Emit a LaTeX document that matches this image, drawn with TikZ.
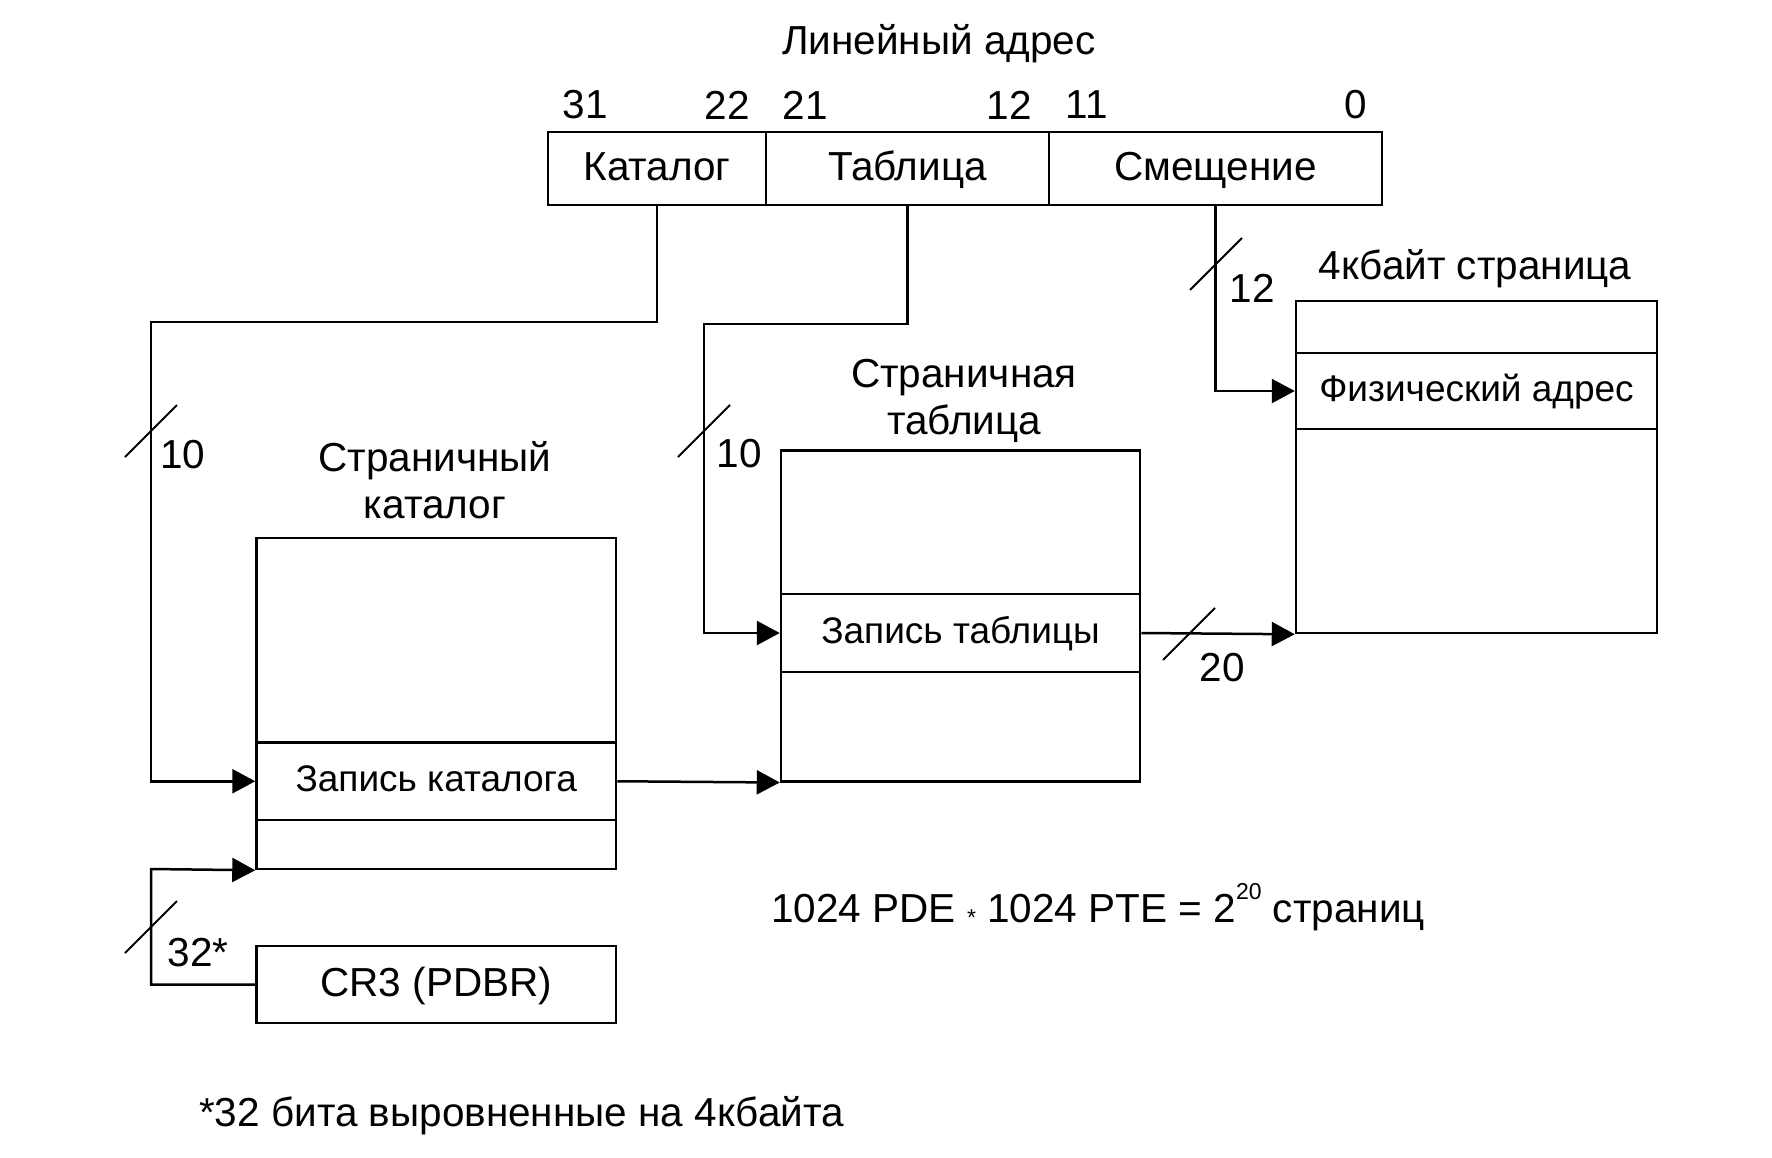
\documentclass[tikz,border=0pt]{standalone}
\usepackage{fontspec}
\setmainfont{Liberation Sans}
\usepackage{tikz}
\usetikzlibrary{arrows.meta}
\usetikzlibrary{calc}

\tikzset{
  lbl/.style={font=\fontsize{40.5}{47}\selectfont, inner sep=0pt, align=center},
  cell/.style={draw, line width=2.5pt, inner sep=0pt, text height=24pt, text depth=0pt,
    font=\fontsize{40.5}{47}\selectfont},
  entry/.style={cell, text height=21pt, font=\fontsize{37}{44}\selectfont},
  wire/.style={line width=2.5pt},
  arr/.style={wire, -{Triangle[length=23pt,width=24pt]}}
}

\begin{document}
\begin{tikzpicture}[x=1pt, y=-1pt]
  % Keep the page size
  \useasboundingbox (0,0) rectangle (1772,1157);

  % Define the row height of the address fields
  \def\rowh{73}

  % Draw the linear address
  \node[lbl] (title) at (939,44) {Линейный адрес};
  \node[cell, minimum width=218pt, minimum height=\rowh pt] (cat) at (657,168.5) {Каталог};
  \node[cell, minimum width=283pt, minimum height=\rowh pt] (tab) at (907.5,168.5) {Таблица};
  \node[cell, minimum width=333pt, minimum height=\rowh pt] (off) at (1215.5,168.5) {Смещение};

  % Draw the bit numbers
  \foreach \x/\b in {585/31, 727/22, 805/21, 1009/12, 1087/11, 1356/0} {
    \node[lbl] (bit\b) at (\x,105) {\b};
  }

  % Draw the page directory
  \node[cell, minimum width=359.5pt, minimum height=331pt] (dir) at (436.25,703.5) {};
  \node[entry, minimum width=359.5pt, minimum height=77.5pt] (direntry) at (436.25,781.25) {Запись каталога};
  \node[lbl] (dirtitle) at (435,480) {Страничный\\каталог};

  % Draw the page table
  \node[cell, minimum width=359pt, minimum height=331pt] (tbl) at (960.5,615.75) {};
  \node[entry, minimum width=359pt, minimum height=78pt] (tblentry) at (960.5,633) {Запись таблицы};
  \node[lbl] (tbltitle) at (964,401) {Страничная\\таблица};

  % Draw the 4k page
  \node[cell, minimum width=361pt, minimum height=332pt] (page) at (1476.5,467) {};
  \node[entry, minimum width=361pt, minimum height=76pt] (pageentry) at (1476.5,391) {Физический адрес};
  \node[lbl] (pagetitle) at (1475,269) {4кбайт страница};

  % Draw the CR3 register
  \node[cell, minimum width=359.5pt, minimum height=77pt] (cr3) at (436.25,984.5) {CR3 (PDBR)};

  % Draw the connectors
  \coordinate (catbend) at (151,322);
  \coordinate (tabbend) at (704,324);
  \coordinate (crbend) at (151,869);
  \draw[arr] (cat.south) |- (catbend) |- (direntry.west);
  \draw[arr] (tab.south) |- (tabbend) |- (tblentry.west);
  \draw[arr] (off.south) |- (pageentry.west);
  \draw[arr] (direntry.east) -- (tbl.south west);
  \draw[arr] (tblentry.east) -- (page.south west);
  \draw[arr] (cr3.west) -| (crbend) -- (dir.south west);

  % Draw the bus width marks
  \foreach \cx/\cy/\lx/\ly/\w in {151/431/183/455/10, 704/431/739/454/10,
      1216/264/1252/288/12, 1189/634/1222/668/20, 151/927/198/953/32*} {
    \draw[line width=2pt] (\cx-26,\cy+26) -- (\cx+26,\cy-26);
    \node[lbl] at (\lx,\ly) {\w};
  }

  % Draw the notes
  \node[lbl, anchor=west] (count) at (771,907)
    {1024 PDE \raisebox{-0.15ex}{\fontsize{23}{23}\selectfont *} 1024 PTE = 2\raisebox{1.1ex}{\fontsize{23}{23}\selectfont 20} страниц};
  \node[lbl, anchor=west] (note) at (199,1116) {*32 бита выровненные на 4кбайта};

\end{tikzpicture}
\end{document}
